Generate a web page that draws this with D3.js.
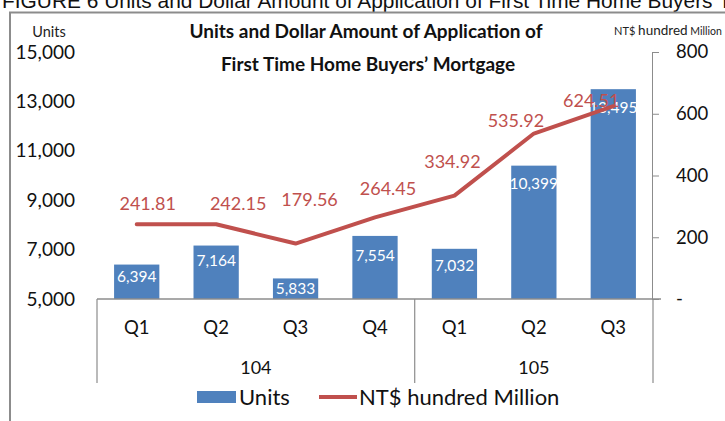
<!DOCTYPE html>
<html>
<head>
<meta charset="utf-8">
<script src="https://cdn.jsdelivr.net/npm/d3@7"></script>
<style>
  body { margin: 0; background: #fff; }
  svg { display: block; font-family: Lato, "Open Sans", sans-serif; }
</style>
</head>
<body>
<div id="chart"></div>
<script>
// data
const quarters = ["Q1", "Q2", "Q3", "Q4", "Q1", "Q2", "Q3"];
const years = ["104", "104", "104", "104", "105", "105", "105"];
const units = [6394, 7164, 5833, 7554, 7032, 10399, 13495];
const amounts = [241.81, 242.15, 179.56, 264.45, 334.92, 535.92, 624.51];
const unitTicks = [5000, 7000, 9000, 11000, 13000, 15000];
const amountTicks = [0, 200, 400, 600, 800];

// hand placed label nudges (dx, dy) like in the original
const barLabelDy = [12, 15, 10, 20, 17, 18, 18];
const lineLabelOff = [[11, -21], [22, -21], [14, -44], [13, -29], [-2, -34], [-18, -13], [-22, -5]];

const blue = "#4F81BD", red = "#C0504D", grey = "#8c8c8c";
const width = 725, height = 421;
const plotL = 97, plotR = 653, plotT = 52, base = 299, catBottom = 383;

const svg = d3.select("#chart").append("svg")
  .attr("width", width)
  .attr("height", height);

// caption cut off at the top of the picture
svg.append("text")
  .attr("x", 2).attr("y", 7.5)
  .style("font-family", "'Liberation Sans', Arial, sans-serif")
  .style("font-size", "20.9px")
  .attr("fill", "#111")
  .text("FIGURE 6 Units and Dollar Amount of Application of First Time Home Buyers' Mortgage");

// frame
svg.append("path")
  .attr("d", `M10,${height} V12.5 H${width}`)
  .attr("fill", "none")
  .attr("stroke", grey)
  .attr("stroke-width", 2);

const idx = d3.range(quarters.length);
const x = d3.scaleBand().domain(idx).range([plotL, plotR])
  .paddingInner(0.43).paddingOuter(0.215);
const yL = d3.scaleLinear().domain([5000, 15000]).range([base, plotT]);
const yR = d3.scaleLinear().domain([0, 800]).range([base, plotT]);
const half = x.step() * x.paddingInner() / 2;

// titles
svg.append("text").attr("x", 366).attr("y", 38)
  .attr("text-anchor", "middle").style("font-weight", "bold").style("font-size", "19px")
  .attr("fill", "#111").text("Units and Dollar Amount of Application of");
svg.append("text").attr("x", 368).attr("y", 71)
  .attr("text-anchor", "middle").style("font-weight", "bold").style("font-size", "19px")
  .attr("fill", "#111").text("First Time Home Buyers\u2019 Mortgage");

svg.append("text").attr("x", 49).attr("y", 37)
  .attr("text-anchor", "middle").style("font-size", "14.5px")
  .attr("fill", "#222").text("Units");

const unitLbl = svg.append("text").attr("x", 614).attr("y", 35).attr("fill", "#222");
unitLbl.append("tspan").style("font-size", "11px").text("NT$ ");
unitLbl.append("tspan").style("font-size", "13.5px").text("hundred");
unitLbl.append("tspan").style("font-size", "10.5px").text(" Million");

// left axis, labels only
svg.append("g")
  .attr("transform", `translate(75,0)`)
  .call(d3.axisLeft(yL).tickValues(unitTicks).tickSize(0).tickPadding(0).tickFormat(d3.format(",")))
  .call(g => g.select(".domain").remove())
  .call(g => g.selectAll("text").style("font-family", "Lato").style("font-size", "19px").attr("fill", "#111"));

// right axis
svg.append("g")
  .attr("transform", `translate(${plotR - 1},0)`)
  .call(d3.axisRight(yR).tickValues(amountTicks).tickSize(7).tickSizeOuter(0).tickPadding(17)
    .tickFormat(d => d === 0 ? "-" : d))
  .call(g => g.select(".domain").attr("stroke", grey))
  .call(g => g.selectAll("line").attr("stroke", grey))
  .call(g => g.selectAll("text").style("font-family", "Lato").style("font-size", "18.5px").attr("fill", "#111"));

// bars
svg.selectAll(".bar")
  .data(idx)
  .enter()
  .append("rect")
  .attr("class", "bar")
  .attr("x", i => x(i))
  .attr("width", x.bandwidth())
  .attr("y", i => yL(units[i]))
  .attr("height", i => base - yL(units[i]))
  .attr("fill", blue);

svg.selectAll(".barLabel")
  .data(idx)
  .enter()
  .append("text")
  .attr("x", i => x(i) + x.bandwidth() / 2)
  .attr("y", i => yL(units[i]) + barLabelDy[i])
  .attr("dy", "0.35em")
  .attr("text-anchor", "middle")
  .style("font-size", "15.5px")
  .attr("fill", "#fff")
  .text(i => d3.format(",")(units[i]));

// category axis
svg.append("line")
  .attr("x1", plotL).attr("x2", plotR + 8)
  .attr("y1", base).attr("y2", base)
  .attr("stroke", grey).attr("stroke-width", 1.3);

const seps = [x(0) - half, x(4) - half, x(6) + x.bandwidth() + half];
svg.selectAll(".sep")
  .data(seps)
  .enter()
  .append("line")
  .attr("x1", d => d).attr("x2", d => d)
  .attr("y1", base).attr("y2", catBottom)
  .attr("stroke", grey).attr("stroke-width", 1.2);

svg.selectAll(".qLabel")
  .data(idx)
  .enter()
  .append("text")
  .attr("x", i => x(i) + x.bandwidth() / 2)
  .attr("y", 328)
  .attr("dy", "0.35em")
  .attr("text-anchor", "middle")
  .style("font-size", "18.5px")
  .attr("fill", "#111")
  .text(i => quarters[i]);

const yearNames = Array.from(new Set(years));
svg.selectAll(".yLabel")
  .data(yearNames)
  .enter()
  .append("text")
  .attr("x", yr => {
    const first = years.indexOf(yr), last = years.lastIndexOf(yr);
    return ((x(first) - half) + (x(last) + x.bandwidth() + half)) / 2;
  })
  .attr("y", 368)
  .attr("dy", "0.35em")
  .attr("text-anchor", "middle")
  .style("font-size", "18px")
  .attr("fill", "#111")
  .text(d => d);

// line series
const line = d3.line()
  .x(i => x(i) + x.bandwidth() / 2)
  .y(i => yR(amounts[i]));

svg.append("path")
  .datum(idx)
  .attr("d", line)
  .attr("fill", "none")
  .attr("stroke", red)
  .attr("stroke-width", 4)
  .attr("stroke-linecap", "round")
  .attr("stroke-linejoin", "round");

svg.selectAll(".lineLabel")
  .data(idx)
  .enter()
  .append("text")
  .attr("x", i => x(i) + x.bandwidth() / 2 + lineLabelOff[i][0])
  .attr("y", i => yR(amounts[i]) + lineLabelOff[i][1])
  .attr("dy", "0.35em")
  .attr("text-anchor", "middle")
  .style("font-size", "18px")
  .attr("fill", red)
  .text(i => amounts[i].toFixed(2));

// legend
const legend = svg.append("g");
legend.append("rect")
  .attr("x", 197).attr("y", 391).attr("width", 39).attr("height", 12)
  .attr("fill", blue);
legend.append("text")
  .attr("x", 239).attr("y", 397).attr("dy", "0.35em")
  .style("font-size", "22px").attr("fill", "#111").text("Units");
legend.append("line")
  .attr("x1", 319).attr("x2", 357).attr("y1", 397).attr("y2", 397)
  .attr("stroke", red).attr("stroke-width", 4);
legend.append("text")
  .attr("x", 359).attr("y", 397).attr("dy", "0.35em")
  .style("font-size", "22px").attr("fill", "#111").text("NT$ hundred Million");
</script>
</body>
</html>
